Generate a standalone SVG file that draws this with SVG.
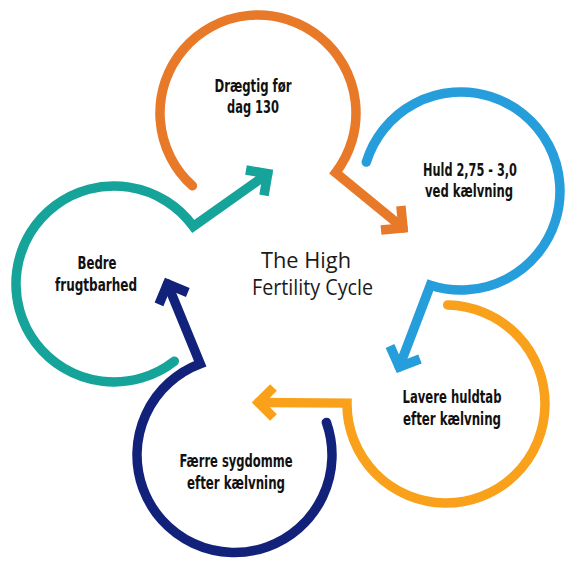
<svg xmlns="http://www.w3.org/2000/svg" width="582" height="572" viewBox="0 0 582 572">
<style>
.ring{fill:none;stroke-width:9.5;stroke-linecap:round;stroke-linejoin:miter;stroke-miterlimit:10}
.head{fill:none;stroke-width:9.5;stroke-linecap:butt;stroke-linejoin:miter;stroke-miterlimit:10}
.lbl{font-family:"Liberation Sans Narrow","DejaVu Sans Condensed","DejaVu Sans",sans-serif;font-stretch:condensed;font-weight:bold;font-size:18px;fill:#111;text-anchor:middle}
.title{font-family:"Open Sans","Noto Sans",sans-serif;font-size:21px;fill:#1a1a1a}
.o{stroke:#E87928}.b{stroke:#259EDB}.y{stroke:#F9A11B}.n{stroke:#12227A}.t{stroke:#15A39A}
</style>
<rect width="582" height="572" fill="#fff"/>
<g id="connectors">
<path class="ring o" d="M192.4,185.8 A98,98 0 1 1 335.7,172.7 L403,227.9"/>
<path class="head o" d="M400.9,206 L403,227.9 L381,230"/>
<path class="ring b" d="M366.3,162.1 A99,99 0 1 1 430.4,285.2 L399.3,366.9"/>
<path class="head b" d="M420,359 L399.3,366.9 L390,346"/>
<path class="ring y" d="M447.7,305 A99,99 0 1 1 347,403.1 L258.5,402.5"/>
<path class="head y" d="M273.5,387.5 L258.5,402.5 L273.5,417.5"/>
<path class="ring n" d="M326.4,422.4 A97.5,97.5 0 1 1 200.2,363.7 L167.5,284"/>
<path class="head n" d="M159,304.3 L167.5,284 L187.8,292.5"/>
<path class="ring t" d="M174.3,361.2 A98,98 0 1 1 193.3,226.4 L267.7,173.7"/>
<path class="head t" d="M246,170 L267.7,173.7 L264,195.4"/>
</g>
<g id="node-draegtig">
<text class="lbl" x="253" y="92" textLength="77" lengthAdjust="spacingAndGlyphs">Drægtig før</text>
<text class="lbl" x="253" y="113" textLength="52" lengthAdjust="spacingAndGlyphs">dag 130</text>
</g>
<g id="node-huld">
<text class="lbl" x="470" y="176" textLength="94" lengthAdjust="spacingAndGlyphs">Huld 2,75 - 3,0</text>
<text class="lbl" x="469" y="197" textLength="88" lengthAdjust="spacingAndGlyphs">ved kælvning</text>
</g>
<g id="node-lavere">
<text class="lbl" x="452" y="403" textLength="99" lengthAdjust="spacingAndGlyphs">Lavere huldtab</text>
<text class="lbl" x="452" y="425" textLength="98" lengthAdjust="spacingAndGlyphs">efter kælvning</text>
</g>
<g id="node-faerre">
<text class="lbl" x="236" y="467" textLength="113" lengthAdjust="spacingAndGlyphs">Færre sygdomme</text>
<text class="lbl" x="236" y="489" textLength="98" lengthAdjust="spacingAndGlyphs">efter kælvning</text>
</g>
<g id="node-bedre">
<text class="lbl" x="97" y="269" textLength="39" lengthAdjust="spacingAndGlyphs">Bedre</text>
<text class="lbl" x="96" y="291" textLength="82" lengthAdjust="spacingAndGlyphs">frugtbarhed</text>
</g>
<g id="title">
<text class="title" x="261" y="268" textLength="90" lengthAdjust="spacingAndGlyphs">The High</text>
<text class="title" x="252" y="295" textLength="121" lengthAdjust="spacingAndGlyphs">Fertility Cycle</text>
</g>
</svg>
